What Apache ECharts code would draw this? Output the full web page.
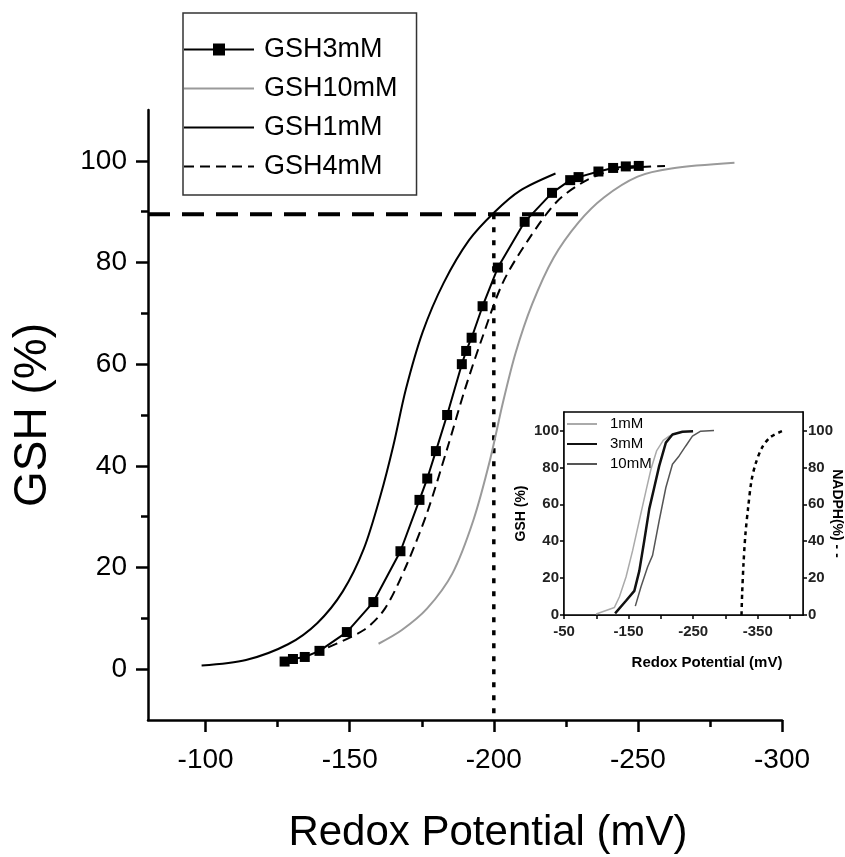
<!DOCTYPE html>
<html><head><meta charset="utf-8">
<script src="https://cdn.jsdelivr.net/npm/echarts@6/dist/echarts.min.js"></script>
<style>html,body{margin:0;padding:0;background:#fff}#c{width:845px;height:857px}</style>
</head><body><div id="c"></div>
<script>
// ---------- main chart data (Redox potential mV, GSH %) ----------
const gsh3X = [-127.4,-130.3,-134.4,-139.5,-149.0,-158.2,-167.6,-174.2,-176.9,-179.9,-183.8,-188.9,-190.4,-192.3,-196.1,-201.4,-210.7,-220.2,-226.5,-229.4,-236.3,-241.4,-245.8,-250.3];
const gsh3Y = [1.5,2.0,2.4,3.6,7.3,13.2,23.2,33.3,37.5,42.9,50.0,60.0,62.6,65.2,71.4,79.0,88.0,93.7,96.2,96.8,97.9,98.6,98.9,99.0];
const gsh10X = [-160,-168.1,-176.8,-185.6,-192.9,-198.7,-203.1,-207.5,-213.3,-220.7,-229.4,-238.2,-249.9,-261.6,-283.5];
const gsh10Y = [5.0,7.7,11.9,18.8,29.3,41.2,52.3,62.1,71.8,80.9,87.9,92.8,96.9,98.5,99.6];
const gsh1X = [-98.6,-114,-128.6,-138.8,-147.6,-154.9,-160.7,-165.1,-169.5,-175.3,-182.6,-191.4,-200.2,-209,-221.4];
const gsh1Y = [0.7,1.8,4.9,9.1,15.3,23.7,34.2,43.9,55.1,66.3,76.0,84.4,89.9,94.1,97.5];
const gsh4X = [-142.5,-154.9,-162.2,-169.5,-176.8,-184.1,-190,-195.8,-203.1,-211.9,-222.1,-232.3,-242.6,-259.4];
const gsh4Y = [4.3,7.7,11.9,20.2,30.7,43.9,55.1,64.9,76.0,84.4,92.1,96.2,98.3,99.0];
const guideHX = [-80,-232];
const guideHY = [89.5,89.5];
const guideVX = [-200,-200];
const guideVY = [89.5,-10];
const mainXTicks = [-100,-150,-200,-250,-300];
const mainXMinor = [-125,-175,-225,-275];
const mainYTicks = [0,20,40,60,80,100];
const mainYMinor = [10,30,50,70,90];

// ---------- inset data ----------
const in1X = [-99.8,-128.1,-135.8,-146.0,-156.3,-166.6,-176.9,-184.6,-193.3,-203.6,-212.8,-222.1];
const in1Y = [0.5,4.1,9.9,20.6,35.0,51.2,67.3,79.0,88.9,94.6,96.9,98.2];
const in3X = [-129.1,-146.0,-158.9,-166.6,-174.3,-182.0,-189.7,-197.4,-207.7,-217.9,-233.4,-249.8];
const in3Y = [0.9,7.7,13.1,23.9,40.4,57.5,69.1,80.8,93.4,97.8,99.3,99.6];
const in10X = [-160.4,-169.2,-179.4,-187.1,-197.4,-207.7,-217.9,-228.2,-238.5,-248.8,-261.6,-282.2];
const in10Y = [4.8,15.3,26.0,32.3,51.2,69.1,81.7,86.2,91.6,96.9,99.6,100];
const nadphX = [-324.8,-325.8,-327.9,-330.9,-335.1,-340.2,-346.4,-356.6,-369.5,-387.4];
const nadphY = [0,11.7,27.8,44.0,58.3,72.7,81.7,90.7,96.4,99.6];
const inXTicks = [-50,-100,-150,-200,-250,-300,-350,-400];
const inXLabels = [-50,-150,-250,-350];
const inYTicks = [0,20,40,60,80,100];

const F = 'Liberation Sans, Arial, Helvetica, sans-serif';
const pts = (xs, ys) => xs.map((x, i) => [x, ys[i]]);
const noSym = {opacity: 0};

const chart = echarts.init(document.getElementById('c'), null, {renderer: 'canvas'});
chart.setOption({
  animation: false,
  backgroundColor: '#fff',
  textStyle: {fontFamily: F, color: '#000'},
  grid: [
    {left: 148, right: 63, top: 110, bottom: 137, outerBoundsMode: 'none', containLabel: false},
    {left: 564, right: 42, top: 412, bottom: 242, outerBoundsMode: 'none', containLabel: false,
     show: true, borderColor: '#000', borderWidth: 1.5, backgroundColor: '#fff', z: 5}
  ],
  legend: [
    {
      data: [
        {name: 'GSH3mM'},
        {name: 'GSH10mM', itemStyle: noSym},
        {name: 'GSH1mM', itemStyle: noSym},
        {name: 'GSH4mM', itemStyle: noSym}
      ],
      orient: 'vertical', left: 183, top: 13,
      itemWidth: 70, itemHeight: 15, itemGap: 12,
      padding: [23, 19, 15, 0],
      borderColor: '#333', borderWidth: 1.5,
      selectedMode: false,
      textStyle: {fontFamily: F, fontSize: 27, lineHeight: 27, color: '#000', padding: [0, 0, 0, 5]}
    },
    {
      data: [
        {name: '1mM', itemStyle: noSym},
        {name: '3mM', itemStyle: noSym},
        {name: '10mM', itemStyle: noSym}
      ],
      orient: 'vertical', left: 566, top: 416,
      itemWidth: 30, itemHeight: 10, itemGap: 4, padding: 0,
      selectedMode: false, z: 10,
      textStyle: {fontFamily: F, fontSize: 15, lineHeight: 16, color: '#000', padding: [0, 0, 0, 8]}
    }
  ],
  xAxis: [
    {
      type: 'value', gridIndex: 0, min: -300, max: -80, inverse: true, position: 'bottom',
      axisLine: {onZero: false, lineStyle: {color: '#000', width: 2.5}},
      axisTick: {customValues: mainXTicks, length: 12, lineStyle: {color: '#000', width: 2.5}},
      axisLabel: {customValues: mainXTicks, fontSize: 28, margin: 26, color: '#000', fontFamily: F},
      splitLine: {show: false},
      name: 'Redox Potential (mV)', nameLocation: 'middle', nameGap: 92,
      nameTextStyle: {fontSize: 42, fontFamily: F, color: '#000', padding: [0, 0, 0, 46]}
    },
    {
      type: 'value', gridIndex: 0, min: -300, max: -80, inverse: true, position: 'bottom',
      axisLine: {show: false, onZero: false},
      axisTick: {customValues: mainXMinor, length: 7, lineStyle: {color: '#000', width: 2.5}},
      axisLabel: {show: false}, splitLine: {show: false}
    },
    {
      type: 'value', gridIndex: 1, min: -420, max: -50, inverse: true, position: 'bottom',
      axisLine: {onZero: false, lineStyle: {color: '#000', width: 1.5}},
      axisTick: {customValues: inXTicks, length: 4, lineStyle: {color: '#000', width: 1.5}},
      axisLabel: {customValues: inXLabels, fontSize: 15, fontWeight: 'bold', margin: 9, color: '#222', fontFamily: F},
      splitLine: {show: false},
      name: 'Redox Potential (mV)', nameLocation: 'middle', nameGap: 40,
      nameTextStyle: {fontSize: 15, fontWeight: 'bold', fontFamily: F, color: '#000', padding: [0, 0, 0, 47]}
    }
  ],
  yAxis: [
    {
      type: 'value', gridIndex: 0, min: -10, max: 110, position: 'left',
      axisLine: {onZero: false, lineStyle: {color: '#000', width: 2.5}},
      axisTick: {customValues: mainYTicks, length: 12, lineStyle: {color: '#000', width: 2.5}},
      axisLabel: {customValues: mainYTicks, fontSize: 28, margin: 21, color: '#000', fontFamily: F},
      splitLine: {show: false},
      name: 'GSH (%)', nameLocation: 'middle', nameGap: 92,
      nameTextStyle: {fontSize: 46, fontFamily: F, color: '#000'}
    },
    {
      type: 'value', gridIndex: 0, min: -10, max: 110, position: 'left',
      axisLine: {show: false, onZero: false},
      axisTick: {customValues: mainYMinor, length: 7, lineStyle: {color: '#000', width: 2.5}},
      axisLabel: {show: false}, splitLine: {show: false}
    },
    {
      type: 'value', gridIndex: 1, min: 0, max: 110, position: 'left',
      axisLine: {onZero: false, lineStyle: {color: '#000', width: 1.5}},
      axisTick: {customValues: inYTicks, length: 4, lineStyle: {color: '#000', width: 1.5}},
      axisLabel: {customValues: inYTicks, fontSize: 15, fontWeight: 'bold', margin: 5, color: '#222', fontFamily: F},
      splitLine: {show: false},
      name: 'GSH (%)', nameLocation: 'middle', nameGap: 36, nameMoveOverlap: false,
      nameTextStyle: {fontSize: 14, fontWeight: 'bold', fontFamily: F, color: '#000'}
    },
    {
      type: 'value', gridIndex: 1, min: 0, max: 110, position: 'right',
      axisLine: {onZero: false, lineStyle: {color: '#000', width: 1.5}},
      axisTick: {customValues: inYTicks, length: 4, lineStyle: {color: '#000', width: 1.5}},
      axisLabel: {customValues: inYTicks, fontSize: 15, fontWeight: 'bold', margin: 5, color: '#222', fontFamily: F},
      splitLine: {show: false},
      name: 'NADPH(%) - -', nameLocation: 'middle', nameGap: 27, nameRotate: -90, nameMoveOverlap: false,
      nameTextStyle: {fontSize: 14, fontWeight: 'bold', fontFamily: F, color: '#000'}
    }
  ],
  series: [
    {name: 'guideH', type: 'line', xAxisIndex: 0, yAxisIndex: 0, data: pts(guideHX, guideHY), symbol: 'none',
     lineStyle: {color: '#000', width: 4, type: [22, 12]}, silent: true, z: 1},
    {name: 'guideV', type: 'line', xAxisIndex: 0, yAxisIndex: 0, data: pts(guideVX, guideVY), symbol: 'none',
     lineStyle: {color: '#000', width: 3.5, type: [5, 8]}, silent: true, z: 1},
    {name: 'GSH10mM', type: 'line', xAxisIndex: 0, yAxisIndex: 0, data: pts(gsh10X, gsh10Y), symbol: 'none', smooth: 0.3,
     itemStyle: {color: '#9a9a9a'}, lineStyle: {color: '#9a9a9a', width: 2}},
    {name: 'GSH1mM', type: 'line', xAxisIndex: 0, yAxisIndex: 0, data: pts(gsh1X, gsh1Y), symbol: 'none', smooth: 0.3,
     itemStyle: {color: '#000'}, lineStyle: {color: '#000', width: 2}},
    {name: 'GSH4mM', type: 'line', xAxisIndex: 0, yAxisIndex: 0, data: pts(gsh4X, gsh4Y), symbol: 'none', smooth: 0.3,
     itemStyle: {color: '#000'}, lineStyle: {color: '#000', width: 2, type: [10, 6]}},
    {name: 'GSH3mM', type: 'line', xAxisIndex: 0, yAxisIndex: 0, data: pts(gsh3X, gsh3Y), symbol: 'rect', symbolSize: 10,
     itemStyle: {color: '#000'}, lineStyle: {color: '#000', width: 2}, z: 4},
    {name: '1mM', type: 'line', xAxisIndex: 2, yAxisIndex: 2, data: pts(in1X, in1Y), symbol: 'none',
     itemStyle: {color: '#aaa'}, lineStyle: {color: '#aaa', width: 1.5}, z: 6},
    {name: '3mM', type: 'line', xAxisIndex: 2, yAxisIndex: 2, data: pts(in3X, in3Y), symbol: 'none',
     itemStyle: {color: '#111'}, lineStyle: {color: '#111', width: 2.5}, z: 6},
    {name: '10mM', type: 'line', xAxisIndex: 2, yAxisIndex: 2, data: pts(in10X, in10Y), symbol: 'none',
     itemStyle: {color: '#555'}, lineStyle: {color: '#555', width: 1.5}, z: 6},
    {name: 'NADPH', type: 'line', xAxisIndex: 2, yAxisIndex: 3, data: pts(nadphX, nadphY), symbol: 'none', smooth: 0.3,
     itemStyle: {color: '#000'}, lineStyle: {color: '#000', width: 2.5, type: [4, 4]}, z: 6}
  ]
});
</script></body></html>
